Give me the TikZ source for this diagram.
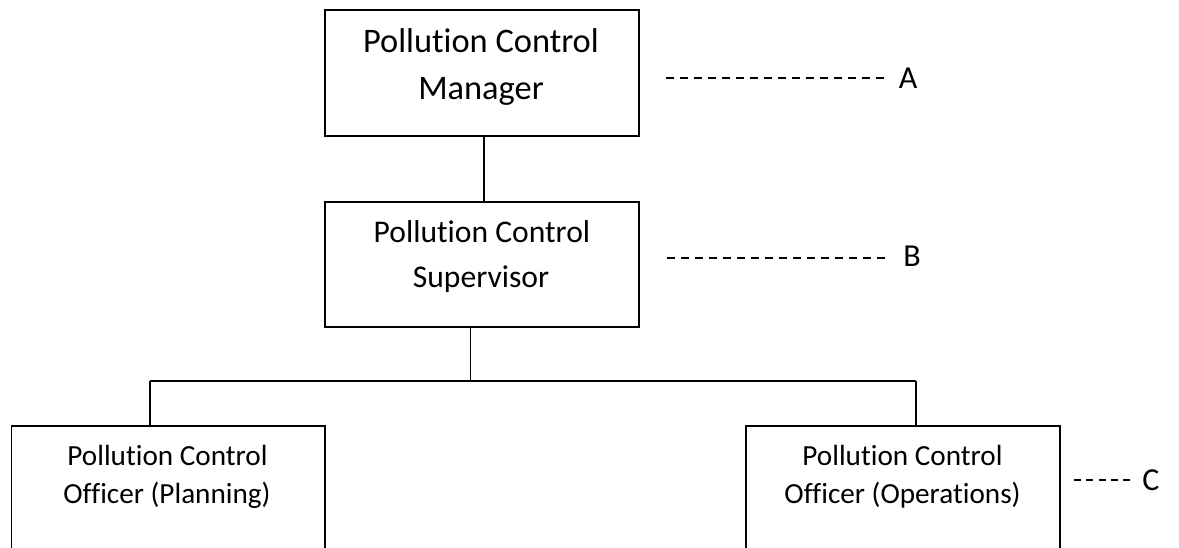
\documentclass[tikz,border=0pt]{standalone}
\usepackage{fontspec}
\setmainfont[Ligatures={NoCommon,NoContextual}]{Carlito}
\begin{document}
\begin{tikzpicture}[x=1pt,y=-1pt,
  box/.style={draw=black, line width=1.7pt, rectangle, inner sep=0pt, outer sep=0pt},
  conn/.style={draw=black, line width=1.6pt},
  lineA/.style={font=\fontsize{34.4}{40}\selectfont, anchor=base, inner sep=0pt},
  lineB/.style={font=\fontsize{31.6}{38}\selectfont, anchor=base, inner sep=0pt},
  lineC/.style={font=\fontsize{29.2}{35}\selectfont, anchor=base, inner sep=0pt},
  lbl/.style={font=\fontsize{32}{38}\selectfont, anchor=base, inner sep=0pt},
  dashline/.style={draw=black, line width=1.3pt, dash pattern=on 8pt off 6pt},
  dashshort/.style={draw=black, line width=1.3pt, dash pattern=on 7pt off 5.25pt}]
\useasboundingbox (0,0) rectangle (1179,548);
\clip (0,0) rectangle (1179,548);
\fill[white] (0,0) rectangle (1179,548);

% boxes
\node[box, minimum width=314pt, minimum height=126pt] (mgr) at (482,73) {};
\node[box, minimum width=314pt, minimum height=125pt] (sup) at (482,264.5) {};
\node[box, minimum width=313.5pt, minimum height=200pt] (plan) at (168.25,526) {};
\node[box, minimum width=314pt, minimum height=200pt] (ops) at (903,526) {};

% texts
\node[lineA] (mgr1) at (481,53) {Pollution Control};
\node[lineA] (mgr2) at (481,100) {Manager};
\node[lineB] (sup1) at (482,243) {Pollution Control};
\node[lineB] (sup2) at (481,288) {Supervisor};
\node[lineC] (plan1) at (167.5,465) {Pollution Control};
\node[lineC] (plan2) at (167,503) {Officer (Planning)};
\node[lineC] (ops1) at (902.5,465) {Pollution Control};
\node[lineC] (ops2) at (902.5,503) {Officer (Operations)};

% connectors
\draw[conn] ([xshift=2pt]mgr.south) -- ([xshift=2pt]sup.north);
\coordinate (j) at (470.5,381);
\coordinate (jl) at (150,381);
\coordinate (jr) at (916,381);
\draw[conn] ([xshift=-11.5pt]sup.south) -- (j);
\draw[conn] (jl) -- (jr);
\draw[conn] (jl) -- (jl |- plan.north);
\draw[conn] (jr) -- (jr |- ops.north);

% level labels
\node[lbl] (la) at (908,89) {A};
\node[lbl] (lb) at (912,267) {B};
\node[lbl] (lc) at (1151,490) {C};
\coordinate (da1) at (666,78);
\coordinate (da2) at (884,78);
\coordinate (db1) at (667,258);
\coordinate (db2) at (885,258);
\coordinate (dc1) at (1074,480);
\coordinate (dc2) at (1130,480);
\draw[dashline] (da1) -- (da2);
\draw[dashline] (db1) -- (db2);
\draw[dashshort] (dc1) -- (dc2);
\end{tikzpicture}
\end{document}
